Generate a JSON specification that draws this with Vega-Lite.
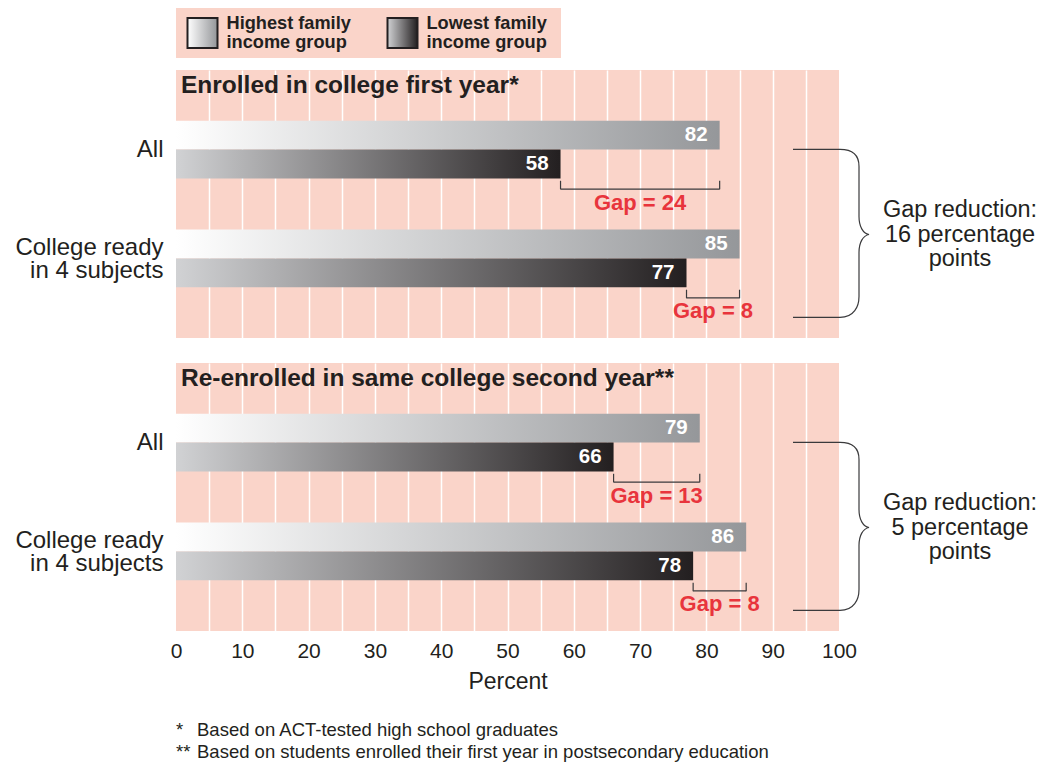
{
  "$schema": "https://vega.github.io/schema/vega-lite/v6.json",
  "padding": {"left": 14, "top": 8, "right": 0, "bottom": 0},
  "config": {
    "font": "Liberation Sans",
    "view": {"fill": "#fad4c9", "stroke": null},
    "axis": {"labelColor": "#231f20", "titleColor": "#231f20", "ticks": false, "domain": false},
    "axisX": {
      "values": [0, 5, 10, 15, 20, 25, 30, 35, 40, 45, 50, 55, 60, 65, 70, 75, 80, 85, 90, 95, 100],
      "labelExpr": "datum.value % 10 === 0 ? datum.label : ''",
      "grid": true, "gridColor": "#ffffff", "gridWidth": 1.5,
      "gridOpacity": {"condition": {"test": "datum.value === 0 || datum.value === 100", "value": 0}, "value": 1},
      "labelFontSize": 21, "labelPadding": 9, "labelFlush": false,
      "titleFontSize": 23, "titleFontWeight": "normal", "titlePadding": 9
    }
  },
  "spacing": 12,
  "vconcat": [
    {
      "data": {
        "values": [
          {"key": "High", "label": ["Highest family", "income group"]},
          {"key": "Low", "label": ["Lowest family", "income group"]}
        ]
      },
      "width": 385,
      "height": 50,
      "encoding": {
        "x": {"field": "key", "type": "nominal", "scale": {"type": "point", "padding": 0.4625}, "axis": null}
      },
      "layer": [
        {
          "transform": [{"filter": "datum.key == 'High'"}],
          "mark": {
            "type": "point", "shape": "square", "size": 900, "filled": true, "opacity": 1,
            "fill": {"gradient": "linear", "stops": [{"offset": 0, "color": "#ffffff"}, {"offset": 1, "color": "#939598"}]},
            "stroke": "#231f20", "strokeWidth": 2, "xOffset": -66
          }
        },
        {
          "transform": [{"filter": "datum.key == 'Low'"}],
          "mark": {
            "type": "point", "shape": "square", "size": 900, "filled": true, "opacity": 1,
            "fill": {"gradient": "linear", "stops": [{"offset": 0, "color": "#d1d2d4"}, {"offset": 1, "color": "#231f20"}]},
            "stroke": "#231f20", "strokeWidth": 2, "xOffset": -66
          }
        },
        {
          "mark": {
            "type": "text", "align": "left", "baseline": "middle", "xOffset": -42, "yOffset": -9,
            "fontSize": 18.2, "fontWeight": "bold", "lineHeight": 18.5, "color": "#231f20"
          },
          "encoding": {"text": {"field": "label"}}
        }
      ]
    },
    {
      "data": {
        "values": [
          {"panel": "Enrolled in college first year*", "group": "All", "high": 82, "low": 58, "gap": 24, "reduction": 16},
          {"panel": "Enrolled in college first year*", "group": "College ready in 4 subjects", "high": 85, "low": 77, "gap": 8, "reduction": 16},
          {"panel": "Re-enrolled in same college second year**", "group": "All", "high": 79, "low": 66, "gap": 13, "reduction": 5},
          {"panel": "Re-enrolled in same college second year**", "group": "College ready in 4 subjects", "high": 86, "low": 78, "gap": 8, "reduction": 5}
        ]
      },
      "transform": [
        {"calculate": "'Gap = ' + datum.gap", "as": "gapLabel"},
        {"calculate": "(datum.high + datum.low) / 2", "as": "gapMid"},
        {"calculate": "['Gap reduction:', datum.reduction + ' percentage', 'points']", "as": "reductionLabel"}
      ],
      "facet": {
        "row": {
          "field": "panel", "type": "nominal",
          "sort": ["Enrolled in college first year*", "Re-enrolled in same college second year**"],
          "header": null
        }
      },
      "spacing": 25,
      "bounds": "flush",
      "spec": {
        "width": 663,
        "height": 268,
        "encoding": {
          "y": {
            "field": "group", "type": "nominal",
            "sort": ["All", "College ready in 4 subjects"],
            "scale": {"paddingInner": 0.47, "paddingOuter": 0.465},
            "title": null,
            "axis": {
              "labelFontSize": 24, "labelLineHeight": 23, "labelPadding": 13, "grid": false,
              "labelOffset": {"condition": {"test": "indexof(datum.label, ' in ') > 0", "value": -10}, "value": 0},
              "labelExpr": "indexof(datum.label, ' in ') > 0 ? [slice(datum.label, 0, indexof(datum.label, ' in ')), slice(datum.label, indexof(datum.label, ' in ') + 1)] : datum.label"
            }
          }
        },
        "layer": [
          {
            "transform": [{"fold": ["high", "low"], "as": ["income", "value"]}, {"filter": "datum.income == 'high'"}],
            "mark": {
              "type": "bar",
              "color": {"gradient": "linear", "stops": [{"offset": 0, "color": "#ffffff"}, {"offset": 1, "color": "#95979a"}]}
            },
            "encoding": {
              "x": {"field": "value", "type": "quantitative", "title": "Percent", "scale": {"domain": [0, 100], "nice": false}},
              "yOffset": {"field": "income", "type": "nominal", "scale": {"domain": ["high", "low"]}}
            }
          },
          {
            "transform": [{"fold": ["high", "low"], "as": ["income", "value"]}, {"filter": "datum.income == 'low'"}],
            "mark": {
              "type": "bar",
              "color": {"gradient": "linear", "stops": [{"offset": 0, "color": "#d1d2d4"}, {"offset": 1, "color": "#231f20"}]}
            },
            "encoding": {
              "x": {"field": "value", "type": "quantitative", "title": "Percent", "scale": {"domain": [0, 100], "nice": false}},
              "yOffset": {"field": "income", "type": "nominal", "scale": {"domain": ["high", "low"]}}
            }
          },
          {
            "transform": [{"fold": ["high", "low"], "as": ["income", "value"]}],
            "mark": {"type": "text", "align": "right", "baseline": "middle", "dx": -12, "fontSize": 20.5, "fontWeight": "bold", "color": "#ffffff"},
            "encoding": {
              "x": {"field": "value", "type": "quantitative", "title": "Percent", "scale": {"domain": [0, 100], "nice": false}},
              "yOffset": {"field": "income", "type": "nominal", "scale": {"domain": ["high", "low"]}},
              "text": {"field": "value", "type": "quantitative"}
            }
          },
          {
            "mark": {"type": "rule", "color": "#3a3a3c", "strokeWidth": 1.2, "yOffset": 39.5},
            "encoding": {
              "x": {"field": "low", "type": "quantitative", "title": "Percent", "scale": {"domain": [0, 100], "nice": false}},
              "x2": {"field": "high"}
            }
          },
          {
            "mark": {"type": "tick", "color": "#3a3a3c", "thickness": 1.2, "size": 8.5, "yOffset": 35.5, "opacity": 1},
            "encoding": {
              "x": {"field": "low", "type": "quantitative", "title": "Percent", "scale": {"domain": [0, 100], "nice": false}}
            }
          },
          {
            "mark": {"type": "tick", "color": "#3a3a3c", "thickness": 1.2, "size": 8.5, "yOffset": 35.5, "opacity": 1},
            "encoding": {
              "x": {"field": "high", "type": "quantitative", "title": "Percent", "scale": {"domain": [0, 100], "nice": false}}
            }
          },
          {
            "mark": {"type": "text", "align": "center", "baseline": "middle", "yOffset": 53, "fontSize": 22, "fontWeight": "bold", "color": "#e8343c"},
            "encoding": {
              "x": {"field": "gapMid", "type": "quantitative", "title": "Percent", "scale": {"domain": [0, 100], "nice": false}},
              "text": {"field": "gapLabel"}
            }
          },
          {
            "transform": [{"filter": "datum.group == 'All'"}],
            "mark": {"type": "text", "align": "left", "baseline": "middle", "xOffset": 5, "yOffset": -64, "fontSize": 24.5, "fontWeight": "bold", "color": "#231f20"},
            "encoding": {
              "x": {"value": 0},
              "text": {"field": "panel"}
            }
          },
          {
            "transform": [{"filter": "datum.group == 'College ready in 4 subjects'"}],
            "mark": {
              "type": "point", "filled": false, "opacity": 1, "size": 40000,
              "stroke": "#3a3a3c", "strokeWidth": 1.2,
              "shape": "M -0.46 -1.09 L 0.01 -1.09 C 0.15 -1.09 0.2 -1.02 0.2 -0.92 L 0.2 -0.42 C 0.2 -0.32 0.24 -0.25 0.3 -0.24 C 0.24 -0.23 0.2 -0.16 0.2 -0.06 L 0.2 0.38 C 0.2 0.48 0.15 0.59 0.01 0.59 L -0.46 0.59"
            },
            "encoding": {"x": {"value": "width"}}
          },
          {
            "transform": [{"filter": "datum.group == 'College ready in 4 subjects'"}],
            "mark": {"type": "text", "align": "center", "baseline": "middle", "xOffset": 121, "yOffset": -48, "fontSize": 23.5, "lineHeight": 24.5, "color": "#231f20"},
            "encoding": {
              "x": {"value": "width"},
              "text": {"field": "reductionLabel"}
            }
          },
          {
            "transform": [{"filter": "datum.group == 'College ready in 4 subjects' && datum.panel == 'Re-enrolled in same college second year**'"}],
            "mark": {"type": "text", "align": "left", "baseline": "middle", "yOffset": 179, "fontSize": 18.5, "lineHeight": 22, "color": "#231f20", "text": ["*", "**"]},
            "encoding": {"x": {"value": 0}}
          },
          {
            "transform": [{"filter": "datum.group == 'College ready in 4 subjects' && datum.panel == 'Re-enrolled in same college second year**'"}],
            "mark": {
              "type": "text", "align": "left", "baseline": "middle", "xOffset": 21, "yOffset": 179, "fontSize": 18.5, "lineHeight": 22, "color": "#231f20",
              "text": ["Based on ACT-tested high school graduates", "Based on students enrolled their first year in postsecondary education"]
            },
            "encoding": {"x": {"value": 0}}
          }
        ]
      }
    }
  ]
}
